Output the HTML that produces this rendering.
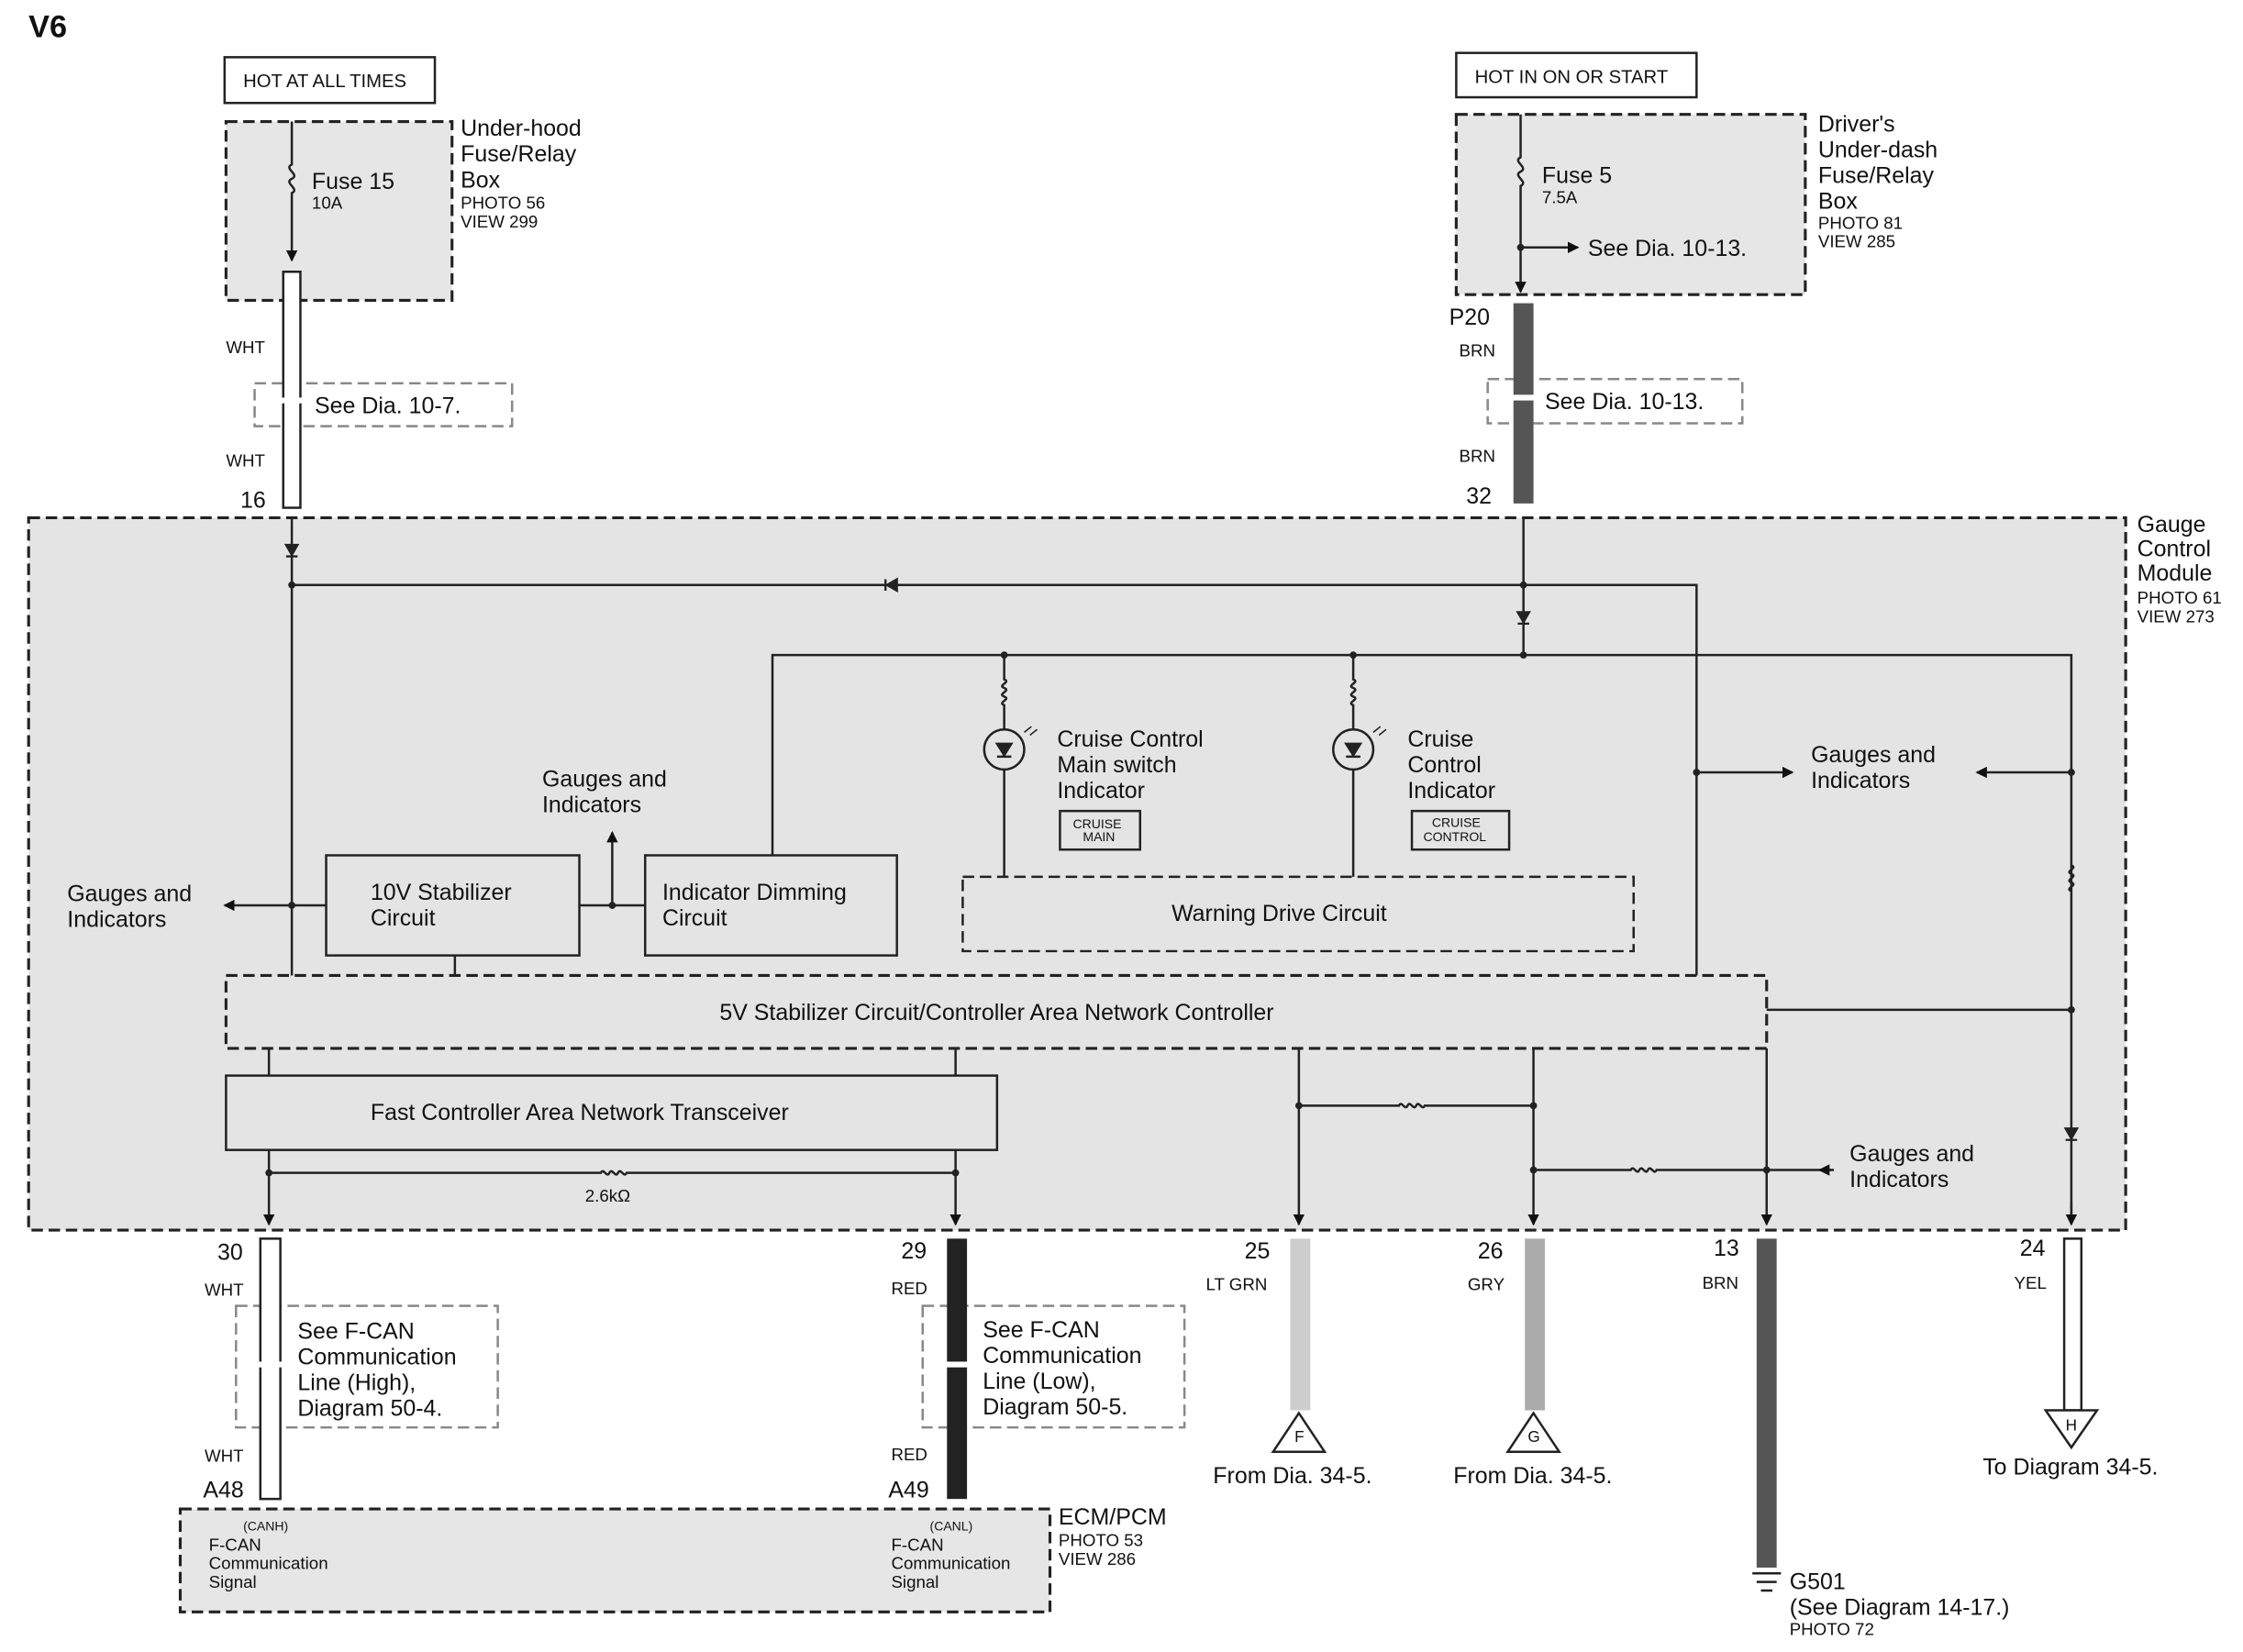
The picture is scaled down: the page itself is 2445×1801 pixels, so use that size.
<!DOCTYPE html>
<html><head><meta charset="utf-8"><style>
html,body{margin:0;padding:0;background:#fff;}
svg{display:block;}
text{font-family:"Liberation Sans",sans-serif;fill:#111;}
</style></head><body>
<svg width="2445" height="1801" viewBox="0 0 1568 1155" preserveAspectRatio="none" xmlns="http://www.w3.org/2000/svg">
<defs>
<marker id="ar" markerWidth="8" markerHeight="8" refX="7" refY="4" orient="auto" markerUnits="userSpaceOnUse"><path d="M0,0 L8,4 L0,8 z" fill="#111"/></marker>
</defs>
<g stroke="#222" stroke-width="1.6" fill="none">
<rect x="157" y="40" width="147" height="32" fill="#fff"/>
<rect x="158" y="85" width="158" height="125" fill="#e6e6e6" stroke-dasharray="8,4" stroke-width="2"/>
<path d="M204,85 V115 c-6,3 6,7 0,10 c-6,3 6,7 0,10 V182" marker-end="url(#ar)"/>
<rect x="1018" y="37" width="168" height="31" fill="#fff"/>
<rect x="1018" y="80" width="244" height="126" fill="#e6e6e6" stroke-dasharray="8,4" stroke-width="2"/>
<path d="M1063,80 V110 c-6,3 6,7 0,10 c-6,3 6,7 0,10 V204" marker-end="url(#ar)"/>
<path d="M1063,173 H1103" marker-end="url(#ar)"/>
<rect x="20" y="362" width="1466" height="498" fill="#e4e4e4" stroke-dasharray="8,4" stroke-width="2"/>
<path d="M204,362 V683"/>
<path d="M204,409 H1186 V683"/>
<path d="M1065,362 V458"/>
<path d="M540,598 V458 H1448 V852"/>
<path d="M1448,840 V856" marker-end="url(#ar)"/>
<path d="M702,458 V475 c5,2 -5,4 0,6 c5,2 -5,4 0,6 c5,2 -5,4 0,6 V510 M702,538 V614"/>
<circle cx="702" cy="524" r="14"/>
<path d="M946,458 V475 c5,2 -5,4 0,6 c5,2 -5,4 0,6 c5,2 -5,4 0,6 V510 M946,538 V614"/>
<circle cx="946" cy="524" r="14"/>
<path d="M1448,605 c5,2 -5,4 0,6 c5,2 -5,4 0,6 c5,2 -5,4 0,6"/>
<rect x="228" y="598" width="177" height="70" fill="#e4e4e4"/>
<rect x="451" y="598" width="176" height="70" fill="#e4e4e4"/>
<rect x="673" y="613" width="469" height="52" fill="#e4e4e4" stroke-dasharray="8,4"/>
<rect x="158" y="682" width="1077" height="51" fill="#e4e4e4" stroke-dasharray="8,4" stroke-width="2"/>
<rect x="158" y="752" width="539" height="52" fill="#e4e4e4"/>
<path d="M228,633 H157" marker-end="url(#ar)"/>
<path d="M405,633 H451"/>
<path d="M428,633 V582" marker-end="url(#ar)"/>
<path d="M318,668 V682"/>
<path d="M1186,540 H1253" marker-end="url(#ar)"/>
<path d="M1448,540 H1382" marker-end="url(#ar)"/>
<path d="M1235,706 H1448"/>
<path d="M188,733 V752 M668,733 V752"/>
<path d="M188,804 V856" marker-end="url(#ar)"/>
<path d="M668,804 V856" marker-end="url(#ar)"/>
<path d="M188,820 H420 c2,-4 4,4 6,0 c2,-4 4,4 6,0 c2,-4 4,4 6,0 H668"/>
<path d="M908,733 V856" marker-end="url(#ar)"/>
<path d="M1072,733 V856" marker-end="url(#ar)"/>
<path d="M1235,733 V856" marker-end="url(#ar)"/>
<path d="M908,773 H978 c2,-4 4,4 6,0 c2,-4 4,4 6,0 c2,-4 4,4 6,0 H1072"/>
<path d="M1072,818 H1140 c2,-4 4,4 6,0 c2,-4 4,4 6,0 c2,-4 4,4 6,0 H1280"/>
<path d="M1282,818 H1272" marker-end="url(#ar)"/>
<rect x="178" y="268" width="180" height="30" stroke-dasharray="8,4" stroke="#888"/>
<rect x="1040" y="265" width="178" height="31" stroke-dasharray="8,4" stroke="#888"/>
<rect x="165" y="913" width="183" height="85" stroke-dasharray="8,4" stroke="#888"/>
<rect x="645" y="913" width="183" height="85" stroke-dasharray="8,4" stroke="#888"/>
<rect x="126" y="1055" width="608" height="72" fill="#e6e6e6" stroke-dasharray="8,4" stroke-width="2"/>
<rect x="741" y="567" width="56" height="27" fill="#e4e4e4"/>
<rect x="987" y="567" width="68" height="27" fill="#e4e4e4"/>
<!-- lamp glyphs -->
<path d="M697,520 h10 l-5,8 z M697,529 h10 M946,520 M941,520 h10 l-5,8 z M941,529 h10" fill="#222"/>
<path d="M716,512 l5,-4 M720,514 l5,-4 M960,512 l5,-4 M964,514 l5,-4" stroke-width="1"/>
</g>
<!-- diodes -->
<g fill="#222" stroke="#222" stroke-width="1.5">
<path d="M200,381 h8 l-4,7 z M200,389 h8"/>
<path d="M627,405 v8 l-7,-4 z M619,405 v8"/>
<path d="M1061,428 h8 l-4,7 z M1061,436 h8"/>
<path d="M1444,789 h8 l-4,7 z M1444,797 h8"/>
</g>
<g fill="#222">
<circle cx="204" cy="409" r="2.5"/><circle cx="204" cy="633" r="2.5"/><circle cx="428" cy="633" r="2.5"/>
<circle cx="1065" cy="409" r="2.5"/><circle cx="1065" cy="458" r="2.5"/><circle cx="702" cy="458" r="2.5"/><circle cx="946" cy="458" r="2.5"/>
<circle cx="1186" cy="540" r="2.5"/><circle cx="1448" cy="540" r="2.5"/><circle cx="1448" cy="706" r="2.5"/>
<circle cx="908" cy="773" r="2.5"/><circle cx="1072" cy="773" r="2.5"/><circle cx="1072" cy="818" r="2.5"/><circle cx="1235" cy="818" r="2.5"/>
<circle cx="188" cy="820" r="2.5"/><circle cx="668" cy="820" r="2.5"/><circle cx="1063" cy="173" r="2.5"/>
</g>
<rect x="198" y="190" width="12" height="165" fill="#fff" stroke="#222" stroke-width="1.6"/>
<rect x="1058" y="212" width="14" height="140" fill="#555"/>
<rect x="182" y="866" width="14" height="182" fill="#fff" stroke="#222" stroke-width="1.6"/>
<rect x="662" y="866" width="14" height="182" fill="#222"/>
<rect x="902" y="866" width="14" height="120" fill="#cdcdcd"/>
<rect x="1066" y="866" width="14" height="120" fill="#ababab"/>
<rect x="1228" y="866" width="14" height="230" fill="#555"/>
<rect x="1443" y="866" width="12" height="120" fill="#fff" stroke="#222" stroke-width="1.6"/>
<!-- wire breaks -->
<rect x="196" y="278" width="16" height="4" fill="#fff"/>
<rect x="1056" y="276" width="18" height="4" fill="#fff"/>
<rect x="180" y="952" width="18" height="4" fill="#fff"/>
<rect x="660" y="952" width="18" height="4" fill="#fff"/>
<g stroke="#222" stroke-width="1.6" fill="#fff">
<path d="M908,988 L890,1015 H926 Z"/>
<path d="M1072,988 L1054,1015 H1090 Z"/>
<path d="M1430,986 H1466 L1448,1012 Z"/>
</g>
<path d="M1225,1100 h20 M1228,1106 h14 M1231,1112 h8" stroke="#222" stroke-width="1.6"/>
<g font-size="13">
<text x="905" y="1008" font-size="11">F</text><text x="1068" y="1008" font-size="11">G</text><text x="1444" y="1000" font-size="11">H</text>
</g>
<text x="20" y="26" font-size="22" font-weight="bold">V6</text>
<text x="170" y="61" font-size="13">HOT AT ALL TIMES</text>
<text x="1031" y="58" font-size="13">HOT IN ON OR START</text>
<g font-size="16">
<text x="322" y="95">Under-hood</text><text x="322" y="113">Fuse/Relay</text><text x="322" y="131">Box</text>
<text x="218" y="132">Fuse 15</text>
<text x="1078" y="128">Fuse 5</text>
<text x="1110" y="179">See Dia. 10-13.</text>
<text x="1271" y="92">Driver's</text><text x="1271" y="110">Under-dash</text><text x="1271" y="128">Fuse/Relay</text><text x="1271" y="146">Box</text>
<text x="220" y="289">See Dia. 10-7.</text>
<text x="1080" y="286">See Dia. 10-13.</text>
<text x="1494" y="372">Gauge</text><text x="1494" y="389">Control</text><text x="1494" y="406">Module</text>
<text x="379" y="550">Gauges and</text><text x="379" y="568">Indicators</text>
<text x="47" y="630">Gauges and</text><text x="47" y="648">Indicators</text>
<text x="739" y="522">Cruise Control</text><text x="739" y="540">Main switch</text><text x="739" y="558">Indicator</text>
<text x="984" y="522">Cruise</text><text x="984" y="540">Control</text><text x="984" y="558">Indicator</text>
<text x="1266" y="533">Gauges and</text><text x="1266" y="551">Indicators</text>
<text x="1293" y="812">Gauges and</text><text x="1293" y="830">Indicators</text>
<text x="259" y="629">10V Stabilizer</text><text x="259" y="647">Circuit</text>
<text x="463" y="629">Indicator Dimming</text><text x="463" y="647">Circuit</text>
<text x="819" y="644">Warning Drive Circuit</text>
<text x="503" y="713">5V Stabilizer Circuit/Controller Area Network Controller</text>
<text x="259" y="783">Fast Controller Area Network Transceiver</text>
<text x="168" y="355">16</text><text x="1025" y="352">32</text><text x="1013" y="227">P20</text>
<text x="152" y="881">30</text><text x="630" y="880">29</text><text x="870" y="880">25</text><text x="1033" y="880">26</text><text x="1198" y="878">13</text><text x="1412" y="878">24</text>
<text x="142" y="1047">A48</text><text x="621" y="1047">A49</text>
<text x="208" y="936">See F-CAN</text><text x="208" y="954">Communication</text><text x="208" y="972">Line (High),</text><text x="208" y="990">Diagram 50-4.</text>
<text x="687" y="935">See F-CAN</text><text x="687" y="953">Communication</text><text x="687" y="971">Line (Low),</text><text x="687" y="989">Diagram 50-5.</text>
<text x="848" y="1037">From Dia. 34-5.</text><text x="1016" y="1037">From Dia. 34-5.</text>
<text x="1386" y="1031">To Diagram 34-5.</text>
<text x="1251" y="1111">G501</text><text x="1251" y="1129">(See Diagram 14-17.)</text>
<text x="740" y="1066">ECM/PCM</text>
</g>
<g font-size="12">
<text x="218" y="146">10A</text><text x="1078" y="142">7.5A</text>
<text x="322" y="146">PHOTO 56</text><text x="322" y="159">VIEW 299</text>
<text x="1271" y="160">PHOTO 81</text><text x="1271" y="173">VIEW 285</text>
<text x="1494" y="422">PHOTO 61</text><text x="1494" y="435">VIEW 273</text>
<text x="158" y="247">WHT</text><text x="158" y="326">WHT</text>
<text x="1020" y="249">BRN</text><text x="1020" y="323">BRN</text>
<text x="143" y="906">WHT</text><text x="143" y="1022">WHT</text>
<text x="623" y="905">RED</text><text x="623" y="1021">RED</text>
<text x="843" y="902">LT GRN</text><text x="1026" y="902">GRY</text><text x="1190" y="901">BRN</text><text x="1408" y="901">YEL</text>
<text x="409" y="840">2.6kΩ</text>
<text x="740" y="1081">PHOTO 53</text><text x="740" y="1094">VIEW 286</text>
<text x="1251" y="1143">PHOTO 72</text>
<text x="146" y="1084">F-CAN</text><text x="146" y="1097">Communication</text><text x="146" y="1110">Signal</text>
<text x="623" y="1084">F-CAN</text><text x="623" y="1097">Communication</text><text x="623" y="1110">Signal</text>
</g>
<g font-size="9">
<text x="170" y="1070">(CANH)</text><text x="650" y="1070">(CANL)</text>
<text x="750" y="579">CRUISE</text><text x="757" y="588">MAIN</text>
<text x="1001" y="578">CRUISE</text><text x="995" y="588">CONTROL</text>
</g>
</svg>
</body></html>
